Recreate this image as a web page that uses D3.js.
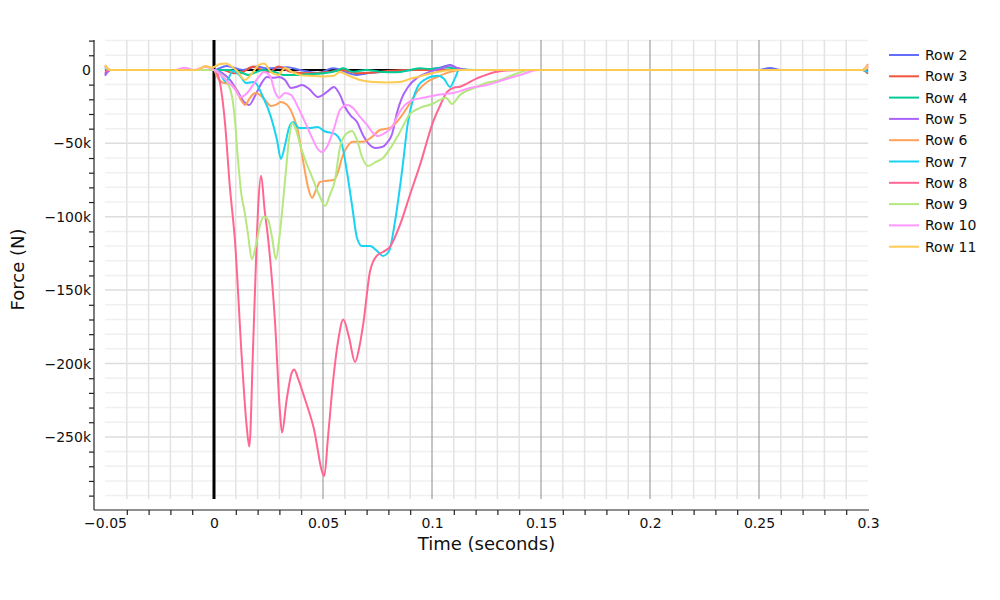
<!DOCTYPE html>
<html><head><meta charset="utf-8">
<script src="https://cdn.jsdelivr.net/npm/d3@7"></script>
<style>
body{margin:0;background:#fff}
text{font-family:"DejaVu Sans",Verdana,sans-serif;fill:#111}
</style>
</head><body>
<svg id="chart" width="1000" height="600"></svg>
<script>
// ---- data (time in s, force in kN) ----
const seriesNames = ["Row 2","Row 3","Row 4","Row 5","Row 6","Row 7","Row 8","Row 9","Row 10","Row 11"];
const seriesColors = ["#636efa","#EF553B","#00cc96","#ab63fa","#FFA15A","#19d3f3","#FF6692","#B6E880","#FF97FF","#FECB52"];

const row2 = [[-0.05,-3],[-0.0475,0],[-0.02,0],[0,0],[0.0058,2.7],[0.0133,0],[0.0196,2.3],[0.0243,1.1],[0.0335,1.8],[0.0394,0],[0.0477,-2],[0.0546,1.1],[0.0655,-3.4],[0.0716,-2],[0.0792,-1.2],[0.0913,0],[0.0991,0.5],[0.1037,1.5],[0.1083,3.4],[0.1119,1],[0.1165,0],[0.2,0],[0.25,0],[0.255,1.4],[0.26,0],[0.2975,0],[0.3,-1]];
const row3 = [[-0.05,-2],[-0.0475,0],[0,0],[0.0043,0],[0.0089,-2.3],[0.0134,-1.2],[0.018,2.3],[0.0211,0.5],[0.0257,-1.2],[0.0295,2.3],[0.0349,-1.2],[0.044,-2.3],[0.0532,-1.2],[0.0593,0],[0.0655,-2.3],[0.0731,-1.8],[0.0807,-0.5],[0.0899,0],[0.2975,0],[0.3,-2.5]];
const row4 = [[-0.05,1],[-0.0475,0],[0,0],[0.0073,0],[0.0134,-2.3],[0.0157,-3.4],[0.018,-2.3],[0.0226,0],[0.0288,-1.8],[0.0318,-3.4],[0.0364,-3.4],[0.0394,-3.4],[0.0425,-3],[0.0501,-2.3],[0.0563,-0.5],[0.0593,1.1],[0.0639,-1.2],[0.07,0],[0.0761,-1.2],[0.0838,-1.6],[0.0899,0],[0.0945,1.1],[0.0991,0.7],[0.1067,1.6],[0.1128,0.5],[0.1197,0],[0.2975,0],[0.3,0.5]];
const row5 = [[-0.05,-4],[-0.0475,0],[0,0],[0.0037,-2],[0.0073,-6.8],[0.011,-15],[0.0138,-21.8],[0.0161,-23.8],[0.0188,-17.7],[0.0216,-9.5],[0.0243,-4.8],[0.0271,-5.4],[0.0298,-4.8],[0.0326,-6.8],[0.0353,-12.3],[0.0376,-11.6],[0.0404,-10.2],[0.0436,-12.9],[0.0477,-18.4],[0.0518,-15],[0.055,-11.6],[0.0578,-17],[0.0601,-25.2],[0.0628,-31.3],[0.0656,-35.4],[0.0683,-44.3],[0.0706,-49.7],[0.0739,-53.1],[0.0771,-52.5],[0.0794,-49.7],[0.0817,-43.6],[0.0839,-29.3],[0.0862,-19],[0.089,-11.6],[0.0931,-5.4],[0.0977,-2],[0.1018,0],[0.105,1.4],[0.1083,3],[0.1115,1.4],[0.1161,0],[0.2975,0],[0.3,1]];
const row6 = [[-0.05,3],[-0.0475,0],[-0.008,0],[-0.004,2.5],[-0.001,1],[0,0],[0.0023,-6.8],[0.0046,-8.9],[0.0073,-9.5],[0.0101,-13.6],[0.0124,-20.4],[0.0142,-23.8],[0.0165,-19],[0.0188,-15.7],[0.0211,-17],[0.0234,-20.4],[0.0261,-24.5],[0.0284,-23.8],[0.0307,-21.8],[0.0335,-23.8],[0.0362,-30.7],[0.0385,-41.6],[0.0408,-61.3],[0.0431,-79.7],[0.045,-87.2],[0.0468,-81.7],[0.0486,-76.3],[0.0514,-75.6],[0.055,-75],[0.0569,-69.5],[0.0587,-60],[0.061,-52.5],[0.0638,-49],[0.0683,-49],[0.0725,-45.6],[0.0761,-40.9],[0.0807,-39.5],[0.0839,-35.4],[0.0885,-25.9],[0.0931,-15],[0.0977,-8.2],[0.1023,-4.8],[0.1069,-2],[0.1128,0],[0.2975,0],[0.3,4]];
const row7 = [[-0.05,2],[-0.0475,0],[0,0],[0.0023,-1.4],[0.0055,-8.2],[0.0087,-0.7],[0.0119,-4],[0.0147,-8.9],[0.0183,-8.2],[0.0225,-18.4],[0.0261,-32],[0.0289,-47.7],[0.0307,-60.6],[0.0326,-51],[0.0344,-39.5],[0.0362,-35.4],[0.039,-39.5],[0.044,-39.5],[0.0477,-38.8],[0.0505,-41.6],[0.0555,-43.6],[0.0587,-51],[0.061,-69.5],[0.0633,-92],[0.0656,-114.5],[0.0679,-120],[0.0716,-120],[0.0748,-123.3],[0.0775,-126.7],[0.0803,-123.3],[0.083,-103.5],[0.0862,-69.5],[0.089,-35.4],[0.0913,-20],[0.0936,-11],[0.0968,-6.5],[0.1,-4.5],[0.1028,-4],[0.1055,-6],[0.1083,-11.6],[0.1106,-5.4],[0.1124,0],[0.1174,0],[0.2975,0],[0.3,-1.5]];
const row8 = [[-0.05,-1],[-0.0475,0],[0,0],[0.0018,-3.4],[0.005,-35.4],[0.0073,-80],[0.0096,-116],[0.0127,-195],[0.015,-243],[0.0162,-256.6],[0.0179,-190],[0.0196,-116],[0.0203,-92],[0.0216,-72],[0.0232,-95],[0.0249,-116],[0.028,-172],[0.0303,-234],[0.0312,-247],[0.0333,-225],[0.0356,-206.6],[0.0368,-204],[0.0385,-210],[0.041,-221],[0.0456,-243],[0.0506,-276.6],[0.0523,-250],[0.0547,-211],[0.057,-184],[0.0593,-170],[0.0619,-182],[0.0647,-199],[0.0665,-190],[0.0685,-172.6],[0.0716,-137],[0.0746,-126.7],[0.0775,-124],[0.0807,-120.6],[0.0853,-105.6],[0.0899,-85],[0.0945,-64.7],[0.1005,-35.4],[0.1041,-23],[0.1069,-15],[0.1106,-11.8],[0.1128,-11.4],[0.1206,-5.7],[0.1298,-1.2],[0.1404,0],[0.2975,0],[0.3,2]];
const row9 = [[-0.05,1.5],[-0.0475,0],[0,0],[0.0028,-2.7],[0.006,-8.2],[0.0083,-18.4],[0.0096,-34],[0.011,-61],[0.0124,-83],[0.0142,-98],[0.0156,-112],[0.0174,-128.8],[0.0193,-119],[0.0211,-105.6],[0.0229,-100],[0.0248,-102],[0.0266,-113.8],[0.0284,-128.8],[0.0303,-110],[0.0326,-75],[0.0344,-47.7],[0.0358,-36],[0.0376,-40.9],[0.0399,-53],[0.0422,-62.7],[0.045,-73],[0.0482,-85],[0.0509,-92.6],[0.0532,-85],[0.0555,-75],[0.0578,-52.5],[0.0606,-43.6],[0.0633,-41.6],[0.0656,-47.7],[0.0679,-59.3],[0.0706,-65.4],[0.0743,-62.7],[0.0775,-60],[0.0807,-53.8],[0.0853,-42.2],[0.0899,-30],[0.0945,-25.9],[0.1,-23.2],[0.1037,-20.4],[0.1064,-19],[0.1092,-23.2],[0.1128,-17],[0.1183,-12.9],[0.1248,-8.9],[0.1312,-6.8],[0.1372,-3.4],[0.145,0],[0.2975,0],[0.3,1.5]];
const row10 = [[-0.05,2.5],[-0.0475,0],[-0.018,0],[-0.0135,1.5],[-0.009,0],[-0.004,2],[0,0],[0.0032,-3.4],[0.0064,-8.2],[0.0092,-12.3],[0.0124,-18.4],[0.0156,-15],[0.0179,-10.2],[0.0202,-5.4],[0.0229,-1.4],[0.0257,-4.1],[0.028,-15],[0.0298,-19],[0.0326,-15.7],[0.0353,-17],[0.0385,-25.2],[0.0417,-35.4],[0.045,-46.3],[0.0472,-53],[0.0495,-55.9],[0.0518,-52.5],[0.055,-40.2],[0.0578,-27.2],[0.061,-23.8],[0.0638,-25.9],[0.067,-32],[0.0702,-37.5],[0.0729,-42.9],[0.0752,-45],[0.0784,-42.9],[0.0817,-38.8],[0.0844,-30.7],[0.0876,-23.8],[0.0913,-20.4],[0.0959,-19],[0.1023,-17],[0.1096,-15.7],[0.1174,-12.3],[0.1252,-10.2],[0.1326,-6.8],[0.1404,-3.4],[0.1486,0],[0.2975,0],[0.3,3]];
const row11 = [[-0.05,3.5],[-0.0475,0],[-0.008,0],[-0.004,2.5],[-0.001,1.5],[0,2],[0.0028,4],[0.0055,4.4],[0.0078,2.7],[0.0106,-0.7],[0.0142,-6.8],[0.0179,-1.4],[0.0206,3.4],[0.0229,4.4],[0.0261,-1.4],[0.0294,-3.4],[0.0326,1.4],[0.0358,-1.4],[0.0404,-3.7],[0.045,-4.1],[0.0495,-4.4],[0.0546,-4.1],[0.0578,-1.4],[0.061,-3.4],[0.067,-6.8],[0.0729,-8.2],[0.0794,-8.5],[0.0853,-8.2],[0.0899,-6.1],[0.0945,-4.4],[0.0991,-2.4],[0.1037,-1],[0.1106,0],[0.2975,0],[0.3,2.5]];

const seriesData = [row2,row3,row4,row5,row6,row7,row8,row9,row10,row11];

const xTickLabels = [-0.05,0,0.05,0.1,0.15,0.2,0.25,0.3];
const yTickLabels = [0,-50000,-100000,-150000,-200000,-250000];
const xMinorTicks = d3.range(-4,30).filter(i => i % 5 !== 0).map(i => i/100);
const yMinorTicks = d3.range(-29,3).filter(i => i % 5 !== 0).map(i => i*10000);
const xGrid = d3.range(-4,30).filter(i => i !== 0).map(i => i/100);
const yGrid = d3.range(-29,3).filter(i => i !== 0).map(i => i*10000);

// ---- chart ----
const svg = d3.select("#chart");
const x = d3.scaleLinear().domain([-0.05,0.3]).range([105,868]);
const y = d3.scaleLinear().domain([-292300,20400]).range([499,40]);

svg.append("rect").attr("width",1000).attr("height",600).attr("fill","#fff");

const grid = svg.append("g");
grid.selectAll("line.hg").data(yGrid).join("line")
  .attr("x1",x.range()[0]).attr("x2",x.range()[1])
  .attr("y1",d=>y(d)).attr("y2",d=>y(d))
  .attr("stroke",d=> (Math.round(d/10000)%5===0) ? "#dcdcdc" : "#f0f0f0")
  .attr("stroke-width",1.5);
grid.selectAll("line.vg").data(xGrid).join("line")
  .attr("x1",d=>x(d)).attr("x2",d=>x(d))
  .attr("y1",y.range()[0]).attr("y2",y.range()[1])
  .attr("stroke",d=> (Math.round(d*100)%5===0) ? "#8c8c8c" : "#e3e3e3")
  .attr("stroke-width",d=> (Math.round(d*100)%5===0) ? 1 : 1.5);

// zero lines
svg.append("line").attr("x1",x.range()[0]).attr("x2",x.range()[1])
  .attr("y1",y(0)).attr("y2",y(0)).attr("stroke","#000").attr("stroke-width",2);
svg.append("line").attr("x1",x(0)).attr("x2",x(0))
  .attr("y1",y.range()[0]).attr("y2",y.range()[1]).attr("stroke","#000").attr("stroke-width",3);

// series
const line = d3.line().x(d=>x(d[0])).y(d=>y(d[1]*1000)).curve(d3.curveMonotoneX);
svg.append("g").selectAll("path").data(seriesData).join("path")
  .attr("d",line).attr("fill","none")
  .attr("stroke",(d,i)=>seriesColors[i]).attr("stroke-width",2)
  .attr("stroke-linejoin","round");

// axes
const axisColor = "#222";
const xAxisY = 510, yAxisX = 94;
svg.append("line").attr("x1",yAxisX).attr("x2",x.range()[1]+1).attr("y1",xAxisY).attr("y2",xAxisY)
  .attr("stroke",axisColor).attr("stroke-width",1.2);
svg.append("line").attr("x1",yAxisX).attr("x2",yAxisX).attr("y1",y.range()[1]).attr("y2",xAxisY)
  .attr("stroke",axisColor).attr("stroke-width",1.2);

const xTicksG = svg.append("g").attr("transform",`translate(0,${xAxisY})`)
  .call(d3.axisBottom(x).tickValues(xMinorTicks).tickFormat("").tickSize(5).tickSizeOuter(0));
const xLabG = svg.append("g").attr("transform",`translate(0,${xAxisY})`)
  .call(d3.axisBottom(x).tickValues(xTickLabels).tickFormat(d3.format("~g")).tickSize(0).tickPadding(8));
const yTicksG = svg.append("g").attr("transform",`translate(${yAxisX},0)`)
  .call(d3.axisLeft(y).tickValues(yMinorTicks).tickFormat("").tickSize(5).tickSizeOuter(0));
const yLabG = svg.append("g").attr("transform",`translate(${yAxisX},0)`)
  .call(d3.axisLeft(y).tickValues(yTickLabels).tickFormat(d3.format("~s")).tickSize(0).tickPadding(3));
[xTicksG,xLabG,yTicksG,yLabG].forEach(g=>{
  g.select(".domain").remove();
  g.selectAll(".tick line").attr("stroke",axisColor).attr("stroke-width",1.2);
  g.selectAll("text").attr("font-family","DejaVu Sans, Verdana, sans-serif").attr("font-size",14).attr("fill","#111");
});

// axis titles
svg.append("text").attr("x",(x.range()[0]+x.range()[1])/2).attr("y",550)
  .attr("text-anchor","middle").attr("font-size",18).text("Time (seconds)");
svg.append("text").attr("transform",`translate(24,${(y.range()[0]+y.range()[1])/2}) rotate(-90)`)
  .attr("text-anchor","middle").attr("font-size",18).text("Force (N)");

// legend
const legend = svg.append("g").attr("transform","translate(889,55)");
const items = legend.selectAll("g").data(seriesNames).join("g")
  .attr("transform",(d,i)=>`translate(0,${i*21.3})`);
items.append("line").attr("x1",0).attr("x2",30).attr("y1",0).attr("y2",0)
  .attr("stroke",(d,i)=>seriesColors[i]).attr("stroke-width",2);
items.append("text").attr("x",36).attr("dy","0.36em").attr("font-size",14).text(d=>d);
</script>
</body></html>
